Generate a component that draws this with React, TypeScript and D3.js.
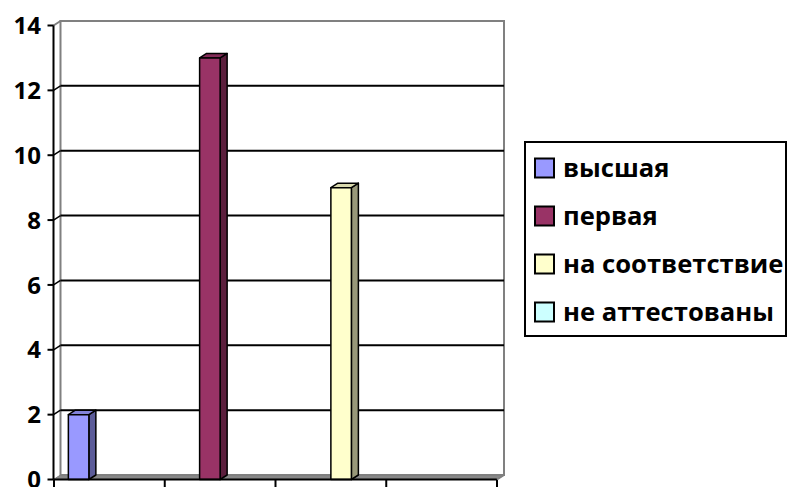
import React from "react";
import * as d3 from "d3";

const categories = ["1", "2", "3", "4"];
const seriesNames = ["высшая", "первая", "на соответствие", "не аттестованы"];
const seriesValues = [2, 13, 9, 0];
const seriesColors = ["#9999FF", "#993366", "#FFFFCC", "#CCFFFF"];
const yTicks = [0, 2, 4, 6, 8, 10, 12, 14];

const W = 788;
const H = 487;
const DX = 7;
const DY = -4.5;
const FONT = "'Open Sans', 'Noto Sans', sans-serif";

export default function App() {
  const x = d3.scaleBand<string>().domain(categories).range([54, 497]).paddingInner(0).paddingOuter(0);
  const xs = d3.scaleBand<string>().domain(seriesNames).range([0, x.bandwidth()]).paddingInner(0).paddingOuter(0.7);
  const y = d3.scaleLinear().domain([0, 14]).range([479.5, 25.5]);

  const x0 = 53.5;
  const x1 = 497;
  const yb = y(0);
  const yt = y(14);

  const shade = (c: string, k: number) => {
    const col = d3.rgb(c);
    return d3.rgb(col.r * k, col.g * k, col.b * k).formatHex();
  };

  return (
    <svg width={W} height={H} style={{ position: "absolute", left: 0, top: 0, background: "#fff" }}>
      {/* floor */}
      <polygon
        points={`${x0},${yb} ${x1},${yb} ${x1 + DX},${yb + DY} ${x0 + DX},${yb + DY}`}
        fill="#888888"
        stroke="#808080"
        strokeWidth={1}
      />
      {/* back wall */}
      <rect x={x0 + DX} y={yt + DY} width={x1 - x0} height={yb - yt} fill="none" stroke="#808080" strokeWidth={2} />
      {/* left wall top edge */}
      <line x1={x0} y1={yt} x2={x0 + DX} y2={yt + DY} stroke="#808080" strokeWidth={2} />
      {/* gridlines */}
      {yTicks
        .filter((t) => t > 0 && t < 14)
        .map((t) => (
          <g key={"g" + t}>
            <line x1={x0 + DX} x2={x1 + DX} y1={y(t) + DY} y2={y(t) + DY} stroke="#000" strokeWidth={2} />
            <line x1={x0} x2={x0 + DX} y1={y(t)} y2={y(t) + DY} stroke="#000" strokeWidth={1.5} />
          </g>
        ))}
      {/* bars */}
      {seriesNames.map((s, i) => {
        const v = seriesValues[i];
        if (v <= 0) return null;
        const cat = categories[i];
        const bx0 = (x(cat) as number) + (xs(s) as number);
        const bx1 = bx0 + xs.bandwidth();
        const yv = y(v);
        const c = seriesColors[i];
        return (
          <g key={s} stroke="#000" strokeWidth={1.5} strokeLinejoin="round">
            <polygon
              points={`${bx1},${yv} ${bx1 + DX},${yv + DY} ${bx1 + DX},${yb + DY} ${bx1},${yb}`}
              fill={shade(c, 0.6)}
            />
            <polygon
              points={`${bx0},${yv} ${bx0 + DX},${yv + DY} ${bx1 + DX},${yv + DY} ${bx1},${yv}`}
              fill={shade(c, 0.85)}
            />
            <rect x={bx0} y={yv} width={bx1 - bx0} height={yb - yv} fill={c} />
          </g>
        );
      })}
      {/* y axis */}
      <line x1={x0} x2={x0} y1={yt} y2={yb} stroke="#000" strokeWidth={2} />
      {yTicks.map((t) => (
        <g key={"t" + t}>
          <line x1={x0 - 6} x2={x0} y1={y(t)} y2={y(t)} stroke="#000" strokeWidth={2} />
          <text
            x={41}
            y={y(t)}
            dy="0.36em"
            textAnchor="end"
            fontFamily={FONT}
            fontWeight="bold"
            fontSize={24}
            fill="#000"
          >
            {t}
          </text>
        </g>
      ))}
      {/* x axis */}
      <line x1={x0} x2={x1} y1={yb} y2={yb} stroke="#000" strokeWidth={2} />
      {[...categories.map((c) => x(c) as number), x1].map((tx, i) => (
        <line key={"xt" + i} x1={tx} x2={tx} y1={yb} y2={yb + 9} stroke="#000" strokeWidth={2} />
      ))}
      <line x1={x1} y1={yb} x2={x1 + DX} y2={yb + DY} stroke="#808080" strokeWidth={2} />
      {/* legend */}
      <rect x={525} y={142} width={261} height={194} fill="#fff" stroke="#000" strokeWidth={2} />
      {seriesNames.map((s, i) => {
        const base = 177 + i * 48;
        return (
          <g key={"l" + s}>
            <rect x={535} y={base - 18.5} width={19} height={19} fill={seriesColors[i]} stroke="#000" strokeWidth={2} />
            <text x={563} y={base} fontFamily={FONT} fontWeight="bold" fontSize={25.6} fill="#000">
              {s}
            </text>
          </g>
        );
      })}
    </svg>
  );
}
